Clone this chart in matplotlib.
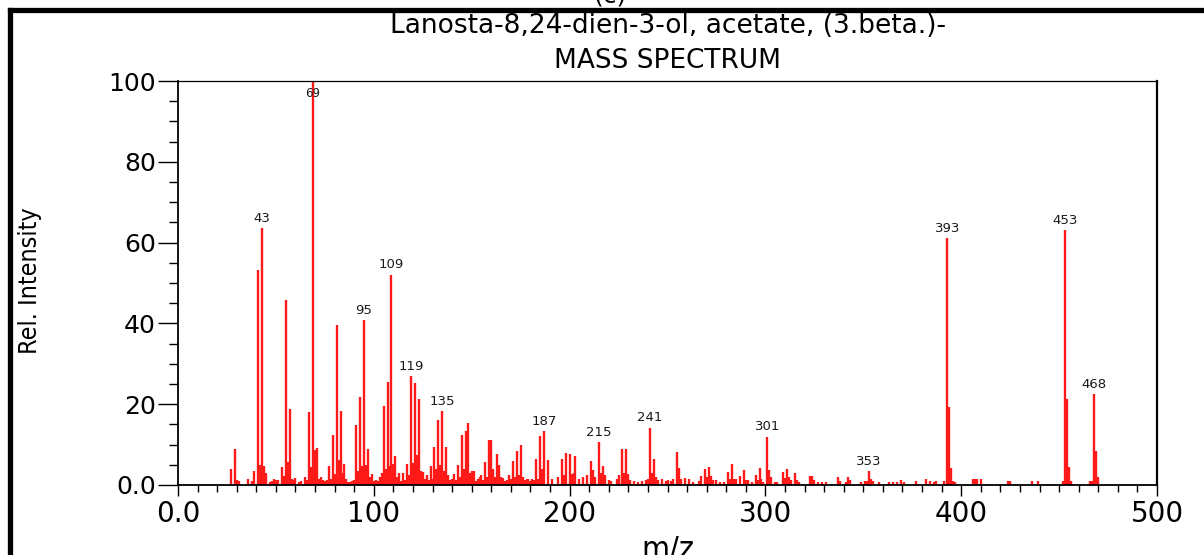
import matplotlib
matplotlib.use('Agg')
import matplotlib.pyplot as plt
from matplotlib.ticker import MultipleLocator, FuncFormatter
from matplotlib.lines import Line2D

# m/z and relative intensity
mz = [27, 29, 30, 31, 36, 38, 39, 41, 42, 43, 44, 45, 47, 48, 49, 50, 51, 53, 54, 55,
      56, 57, 58, 59, 60, 62, 63, 65, 66, 67, 68, 69, 70, 71, 72, 73, 74, 75, 76, 77,
      78, 79, 80, 81, 82, 83, 84, 85, 86, 87, 88, 89, 90, 91, 92, 93, 94, 95, 96, 97,
      98, 99, 100, 101, 102, 103, 104, 105, 106, 107, 108, 109, 110, 111, 112, 113, 114, 115, 116, 117,
      118, 119, 120, 121, 122, 123, 124, 125, 126, 127, 128, 129, 130, 131, 132, 133, 134, 135, 136, 137,
      138, 139, 140, 141, 142, 143, 144, 145, 146, 147, 148, 149, 150, 151, 152, 153, 154, 155, 156, 157,
      158, 159, 160, 161, 162, 163, 164, 165, 166, 167, 168, 169, 170, 171, 172, 173, 174, 175, 176, 177,
      178, 179, 180, 181, 182, 183, 184, 185, 186, 187, 189, 191, 194, 196, 197, 198, 200, 201, 202, 203,
      205, 207, 209, 211, 212, 213, 215, 216, 217, 218, 220, 221, 224, 225, 227, 228, 229, 230, 231, 233,
      235, 237, 239, 240, 241, 242, 243, 244, 245, 247, 249, 250, 252, 253, 255, 256, 257, 259, 261, 263,
      266, 267, 269, 270, 271, 272, 273, 275, 277, 279, 281, 282, 283, 284, 285, 287, 289, 290, 291, 293,
      295, 296, 297, 298, 299, 301, 302, 303, 305, 306, 309, 310, 311, 312, 313, 315, 316, 317, 323, 324,
      325, 327, 329, 331, 337, 338, 341, 342, 343, 349, 351, 352, 353, 354, 355, 358, 363, 365, 367, 369,
      371, 377, 382, 384, 386, 387, 391, 393, 394, 395, 396, 397, 406, 407, 408, 410, 424, 425, 436, 439,
      452, 453, 454, 455, 456, 466, 467, 468, 469, 470]
intensity = [4.0, 8.8, 1.2, 1.0, 1.5, 1.0, 3.5, 53.2, 5.0, 63.5, 4.7, 2.9, 0.8, 1.0, 1.5, 1.2, 1.2, 4.5, 2.3, 45.8,
             5.6, 18.7, 1.5, 1.2, 1.8, 0.8, 1.0, 2.0, 1.2, 18.0, 4.5, 100.0, 8.7, 9.2, 1.5, 2.0, 1.2, 1.0, 1.2, 4.6,
             1.6, 12.3, 2.8, 39.6, 6.3, 18.3, 3.0, 5.1, 1.6, 0.8, 0.8, 1.0, 1.2, 14.8, 3.4, 21.9, 4.6, 40.8, 5.0, 9.0,
             2.0, 2.8, 1.0, 1.2, 1.0, 2.0, 3.0, 19.5, 4.0, 25.4, 4.6, 52.1, 5.1, 7.3, 2.0, 3.0, 1.0, 3.0, 1.2, 5.3,
             2.5, 27.0, 5.5, 25.3, 7.4, 21.4, 3.5, 3.2, 1.5, 2.5, 1.2, 4.8, 1.5, 9.5, 4.0, 16.0, 5.0, 18.3, 3.5, 9.3,
             2.5, 1.2, 1.5, 2.7, 1.2, 4.9, 2.0, 12.4, 4.0, 13.4, 15.4, 3.0, 3.5, 3.5, 1.0, 1.5, 2.0, 2.5, 1.2, 5.6,
             2.0, 11.1, 11.1, 4.0, 2.0, 7.6, 5.0, 2.0, 1.8, 1.0, 1.2, 2.5, 1.5, 6.0, 2.0, 8.4, 2.5, 9.8, 2.0, 1.2,
             1.5, 1.5, 1.0, 1.5, 1.2, 6.4, 1.5, 12.1, 4.0, 13.4, 6.2, 1.5, 2.0, 6.4, 2.5, 8.0, 7.6, 2.7, 3.0, 7.2,
             1.5, 2.0, 2.5, 6.0, 3.7, 2.0, 10.6, 3.0, 4.7, 2.5, 1.3, 1.0, 1.5, 2.5, 8.8, 3.0, 9.0, 2.8, 1.2, 1.0,
             0.8, 1.0, 1.2, 1.5, 14.2, 3.0, 6.4, 2.0, 1.2, 1.5, 1.0, 1.2, 1.0, 1.5, 8.1, 4.3, 1.5, 1.7, 1.5, 0.8,
             1.0, 2.3, 4.0, 2.0, 4.4, 2.3, 1.2, 1.2, 0.8, 0.8, 3.1, 1.5, 5.1, 1.5, 1.5, 2.3, 3.7, 1.2, 1.2, 0.8,
             2.5, 1.2, 4.1, 1.5, 0.8, 12.0, 3.8, 2.0, 0.8, 0.8, 3.2, 1.7, 4.0, 2.0, 1.2, 3.0, 1.2, 0.8, 2.2, 2.2,
             1.2, 0.8, 0.8, 0.8, 1.9, 1.0, 0.8, 1.9, 1.2, 0.8, 1.0, 1.0, 3.5, 1.6, 1.0, 0.8, 0.8, 0.8, 0.8, 1.2,
             0.8, 1.0, 1.4, 1.0, 0.8, 1.0, 1.0, 61.1, 19.4, 4.1, 1.0, 0.8, 1.4, 1.5, 1.4, 1.4, 1.0, 1.0, 1.0, 1.0,
             1.0, 63.1, 21.4, 4.5, 1.0, 1.0, 1.0, 22.5, 8.3, 2.0]
label_mz = [43, 69, 95, 109, 119, 135, 187, 215, 241, 301, 353, 393, 453, 468]

x_ticks = [0, 100, 200, 300, 400, 500]
y_ticks = [0, 20, 40, 60, 80, 100]

W, H = 1204, 555
fig = plt.figure(figsize=(W / 100, H / 100), dpi=100)
ax = fig.add_axes([178 / W, 70 / H, 979 / W, 404 / H])

ax.vlines(mz, 0, intensity, colors='#ff1a1a', linewidth=1.7, zorder=2)

for m in label_mz:
    v = intensity[mz.index(m)]
    if v > 95:
        ax.text(m, 98.6, str(m), ha='center', va='top', fontsize=8.5, color='#1a1a1a')
    else:
        ax.text(m, v + 0.8, str(m), ha='center', va='bottom', fontsize=9.5, color='#1a1a1a')

ax.set_xlim(0, 500)
ax.set_ylim(0, 100)
ax.set_xticks(x_ticks)
ax.set_yticks(y_ticks)
ax.xaxis.set_minor_locator(MultipleLocator(10))
ax.yaxis.set_minor_locator(MultipleLocator(5))
fmt = FuncFormatter(lambda v, p: '0.0' if v == 0 else '%d' % v)
ax.xaxis.set_major_formatter(fmt)
ax.yaxis.set_major_formatter(fmt)

ax.tick_params(axis='x', which='major', length=8, width=1, pad=3, labelsize=20)
ax.tick_params(axis='x', which='minor', length=5, width=1)
ax.tick_params(axis='y', which='major', length=14.5, width=1, pad=1.5, labelsize=18)
ax.tick_params(axis='y', which='minor', length=6.5, width=1)

for s in ['left', 'bottom']:
    ax.spines[s].set_linewidth(1.3)
ax.spines['top'].set_linewidth(0.9)
ax.spines['right'].set_linewidth(1.6)

cx = (178 + 1157) / 2 / W
fig.text(cx, 1 - 33 / H, 'Lanosta-8,24-dien-3-ol, acetate, (3.beta.)-', ha='center', va='baseline', fontsize=19)
fig.text(cx, 1 - 68 / H, 'MASS SPECTRUM', ha='center', va='baseline', fontsize=19)
fig.text(610 / W, 1 - 2.5 / H, '(c)', ha='center', va='baseline', fontsize=18)

fig.text(30 / W, 1 - 281 / H, 'Rel. Intensity', rotation=90, ha='center', va='center',
         fontsize=18, fontstretch='condensed')
fig.text(cx, 1 - 535 / H, 'm/z', ha='center', va='top', fontsize=23, fontstretch='condensed')

# heavy frame, only top and left edges fall inside the picture
fig.add_artist(Line2D([10 / W, 10 / W], [0, 1 - 10 / H], transform=fig.transFigure,
                      color='black', lw=3.8, solid_capstyle='projecting'))
fig.add_artist(Line2D([10 / W, 1], [1 - 10 / H, 1 - 10 / H], transform=fig.transFigure,
                      color='black', lw=3.8, solid_capstyle='projecting'))

fig.savefig('out.png', dpi=100)
